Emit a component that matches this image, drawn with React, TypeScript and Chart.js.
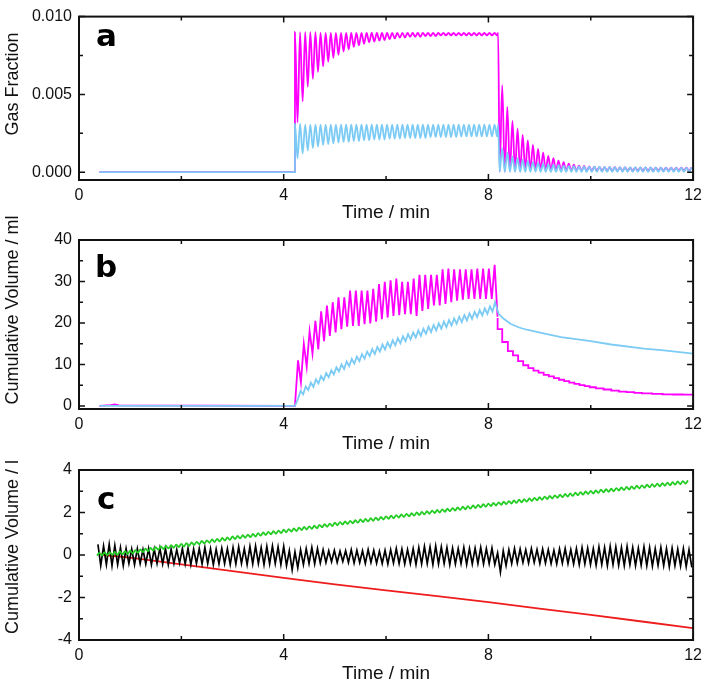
import { useEffect, useRef } from "react";
import { Chart, registerables } from "chart.js";

Chart.register(...registerables);
Chart.defaults.font.family = "'Liberation Sans', Arial, sans-serif";

// ================= shared axis =================
const timeTicks = [0, 4, 8, 12];
const timeTickLabels = ["0", "4", "8", "12"];
const timeMinorTicks = [2, 6, 10];

// ================= panel a : gas fraction (values in units of 1e-4) =================
const gasUnit = 1e-4;
const aYTicks = [0, 0.005, 0.01];
const aYTickLabels = ["0.000", "0.005", "0.010"];
const aYMinorTicks = [0.0025, 0.0075];
const aBaseTime = [0.4, 4.22];
const aBaseValue = [0, 0];
const aPulseStart = 4.22;
const aHalfPeriod = 0.05;
const aMagentaPeaks = [90, 90, 90, 90, 90, 89.5, 89.5, 89.5, 89.5, 89.5, 89.5, 89.5, 89.5, 89.5, 89.5, 89.5, 89.5, 89.5, 89.5, 89.5, 89.5, 89.5, 89.5, 89.5, 89.5, 89.5, 89.5, 89.5, 89.5, 89.5, 89.5, 89.5, 89.5, 89.5, 89.5, 89.5, 89.5, 89.5, 89.5, 89.5];
const aMagentaTroughs = [32, 45.5, 55, 60, 64.5, 68, 71, 73.5, 75.5, 77.5, 79, 80.5, 81.5, 82.5, 83.5, 84, 84.5, 85, 85.5, 86, 86.5, 86.5, 87, 87, 87, 87.5, 87.5, 87.5, 88, 88, 88, 88, 88, 88, 88, 88, 88, 88, 88, 88];
const aBluePeaks = [31, 31, 30.5, 30.5, 30.5, 30.5, 30.5, 30.5, 30.5, 30.5, 30.5, 30.5, 30.5, 30.5, 30.5, 30.5, 30.5, 30.5, 30.5, 30.5, 30.5, 30.5, 30.5, 30.5, 30.5, 30.5, 30.5, 30.5, 30.5, 30.5, 30.5, 30.5, 30.5, 30.5, 30.5, 30.5, 30.5, 30.5, 30.5, 30.5];
const aBlueTroughs = [9, 12, 14, 15.5, 16.5, 17.5, 18, 18.5, 19, 19.5, 19.5, 20, 20, 20.5, 20.5, 21, 21, 21, 21.5, 21.5, 21.5, 22, 22, 22, 22, 22, 22.5, 22.5, 22.5, 22.5, 22.5, 22.5, 23, 23, 23, 23, 23, 23, 23, 23];
const aDropTime = [8.19];
const aMagentaDrop = [89.5];
const aBlueDrop = [30.5];
const aDecayStart = 8.22;
const aMagentaDecayLows = [0.3, 0.3, 0.5, 0.5, 0.5, 0.8, 0.8, 0.8, 0.8, 0.8, 0.8, 0.8, 0.8, 0.8, 0.8, 0.8, 0.8, 0.8, 0.8, 0.8, 0.8, 0.8, 0.8, 0.8, 0.8, 0.8, 0.8, 0.8, 0.8, 0.8, 0.8, 0.8, 0.8, 0.8, 0.8, 0.8, 0.8, 0.8];
const aMagentaDecayHighs = [56, 42, 33, 28, 24, 20.5, 17.5, 15, 12.5, 10.5, 9, 7.5, 6.5, 5.5, 4.8, 4.3, 4, 3.7, 3.5, 3.4, 3.3, 3.2, 3.2, 3.1, 3.1, 3, 3, 3, 3, 3, 3, 3, 3, 3, 3, 3, 3, 3];
const aBlueDecayLows = [0.3, 0.3, 0.3, 0.3, 0.3, 0.3, 0.3, 0.3, 0.3, 0.3, 0.3, 0.3, 0.3, 0.3, 0.3, 0.3, 0.3, 0.3, 0.3, 0.3, 0.3, 0.3, 0.3, 0.3, 0.3, 0.3, 0.3, 0.3, 0.3, 0.3, 0.3, 0.3, 0.3, 0.3, 0.3, 0.3, 0.3, 0.3];
const aBlueDecayHighs = [15.5, 12.5, 10, 9, 8, 7.2, 6.5, 6, 5.5, 5, 4.8, 4.5, 4.3, 4.1, 4, 3.8, 3.7, 3.6, 3.5, 3.5, 3.4, 3.4, 3.3, 3.3, 3.3, 3.2, 3.2, 3.2, 3.2, 3.1, 3.1, 3.1, 3, 3, 3, 3, 3, 3];

// ================= panel b : cumulative volume / ml =================
const bYTicks = [0, 10, 20, 30, 40];
const bYTickLabels = ["0", "10", "20", "30", "40"];
const bYMinorTicks = [5, 15, 25, 35];
const bMagentaBaseTime = [0.4, 0.62, 0.7, 0.78, 4.22];
const bMagentaBase = [0, 0.2, 0.35, 0.1, 0];
const bMagentaStart = 4.28;
const bMagentaHalf = 0.0565;
const bMagentaPeaks = [11, 15, 18, 20.5, 22.8, 24.2, 25, 26.2, 26.2, 27.8, 27.8, 27.8, 27.8, 28.2, 29.4, 29.9, 30.3, 30.7, 29.9, 29.9, 30.7, 31.6, 31.6, 31.6, 31.6, 32.9, 33.1, 32.9, 32.9, 32.9, 32.9, 33.1, 33.1, 33.1, 34];
const bMagentaTroughs = [5.7, 9.5, 12.6, 13.6, 15.6, 16.9, 17.7, 18.5, 19.1, 19.3, 19.3, 19.7, 19.9, 20.3, 20.9, 21.3, 21.7, 21.9, 22.1, 22.1, 21.7, 22.9, 23.4, 24.2, 24.2, 24.6, 25, 25.4, 25.6, 25.8, 25.8, 25.8, 25.8, 25.8, 21.5];
const bMagentaTailTime = [8.18, 8.27, 8.38, 8.48, 8.58, 8.68, 8.78, 8.88, 8.98, 9.08, 9.18, 9.28, 9.38, 9.48, 9.58, 9.68, 9.78, 9.88, 9.98, 10.1, 10.25, 10.4, 10.55, 10.7, 10.85, 11.0, 11.2, 11.4, 11.6, 11.8, 12.0];
const bMagentaTail = [21.2, 18.5, 15.4, 13.2, 12.2, 10.8, 9.8, 9.1, 8.5, 8.0, 7.5, 7.1, 6.7, 6.3, 5.95, 5.6, 5.3, 5.0, 4.75, 4.5, 4.2, 3.95, 3.7, 3.45, 3.3, 3.15, 3.0, 2.9, 2.8, 2.75, 2.7];
const bBlueBaseTime = [0.4, 4.22];
const bBlueBase = [0, 0];
const bBlueStart = 4.28;
const bBlueHalf = 0.05;
const bBlueTroughs = [1.7, 2.8, 3.8, 4.6, 5.4, 6.2, 6.9, 7.6, 8.3, 8.9, 9.6, 10.2, 10.8, 11.4, 12, 12.5, 13.1, 13.6, 14.1, 14.6, 15.1, 15.6, 16, 16.5, 16.9, 17.4, 17.8, 18.2, 18.6, 19, 19.4, 19.8, 20.2, 20.6, 21, 21.4, 21.8, 22.2, 22.7];
const bBluePeaks = [3.6, 4.7, 5.6, 6.4, 7.2, 7.9, 8.6, 9.3, 10, 10.7, 11.3, 11.9, 12.5, 13.1, 13.7, 14.2, 14.8, 15.3, 15.8, 16.3, 16.8, 17.3, 17.7, 18.2, 18.6, 19.1, 19.5, 19.9, 20.3, 20.7, 21.1, 21.5, 21.9, 22.3, 22.7, 23.1, 23.5, 24, 25];
const bBlueTailTime = [8.2, 8.3, 8.43, 8.6, 8.77, 9.1, 9.42, 10.0, 10.4, 11.04, 11.43, 12.0];
const bBlueTail = [22.2, 21.0, 19.8, 18.9, 18.3, 17.4, 16.6, 15.6, 14.8, 13.8, 13.4, 12.6];

// ================= panel c : cumulative volume / l =================
const cYTicks = [-4, -2, 0, 2, 4];
const cYTickLabels = ["-4", "-2", "0", "2", "4"];
const cYMinorTicks = [-3, -1, 1, 3];
const cGreenStart = 0.35;
const cGreenHalf = 0.05;
const cGreenTroughs = [
  -0.03, -0.02, -0.01, 0.0, 0.01, 0.03, 0.04, 0.07, 0.1, 0.14,
  0.18, 0.21, 0.25, 0.28, 0.31, 0.34, 0.37, 0.4, 0.43, 0.47,
  0.5, 0.54, 0.57, 0.61, 0.64, 0.68, 0.71, 0.75, 0.78, 0.81,
  0.84, 0.87, 0.91, 0.94, 0.97, 1.0, 1.03, 1.07, 1.1, 1.13,
  1.17, 1.2, 1.23, 1.26, 1.3, 1.33, 1.36, 1.4, 1.43, 1.46,
  1.49, 1.52, 1.55, 1.58, 1.61, 1.64, 1.67, 1.7, 1.73, 1.76,
  1.79, 1.82, 1.85, 1.88, 1.91, 1.94, 1.97, 2.0, 2.03, 2.06,
  2.09, 2.12, 2.15, 2.18, 2.21, 2.24, 2.27, 2.3, 2.33, 2.36,
  2.39, 2.42, 2.45, 2.48, 2.51, 2.54, 2.57, 2.6, 2.63, 2.66,
  2.69, 2.72, 2.75, 2.78, 2.81, 2.84, 2.87, 2.89, 2.92, 2.95,
  2.97, 3.0, 3.03, 3.05, 3.08, 3.11, 3.13, 3.16, 3.18, 3.21,
  3.23, 3.26, 3.28, 3.31, 3.33, 3.36,
];
const cGreenPeaks = [
  0.1, 0.12, 0.13, 0.15, 0.17, 0.18, 0.2, 0.23, 0.26, 0.3,
  0.33, 0.37, 0.4, 0.43, 0.46, 0.49, 0.52, 0.56, 0.59, 0.62,
  0.66, 0.69, 0.73, 0.76, 0.8, 0.83, 0.87, 0.9, 0.93, 0.96,
  0.99, 1.03, 1.06, 1.09, 1.12, 1.15, 1.19, 1.22, 1.25, 1.29,
  1.32, 1.35, 1.38, 1.42, 1.45, 1.48, 1.52, 1.55, 1.58, 1.61,
  1.64, 1.67, 1.7, 1.73, 1.76, 1.79, 1.82, 1.85, 1.88, 1.91,
  1.94, 1.97, 2.0, 2.03, 2.06, 2.09, 2.12, 2.15, 2.18, 2.21,
  2.24, 2.27, 2.3, 2.33, 2.36, 2.39, 2.42, 2.45, 2.48, 2.51,
  2.54, 2.57, 2.6, 2.63, 2.66, 2.69, 2.72, 2.75, 2.78, 2.81,
  2.84, 2.87, 2.9, 2.93, 2.96, 2.99, 3.02, 3.04, 3.07, 3.1,
  3.12, 3.15, 3.18, 3.2, 3.23, 3.26, 3.28, 3.31, 3.33, 3.36,
  3.38, 3.41, 3.43, 3.46, 3.48, 3.51,
];
const cBlackStart = 0.37;
const cBlackHalf = 0.055;
const cBlackPeaks = [
  0.5, 0.42, 0.5, 0.45, 0.35, 0.3, 0.28, 0.3, 0.25, 0.3,
  0.28, 0.32, 0.3, 0.28, 0.25, 0.3, 0.32, 0.28, 0.3, 0.35,
  0.3, 0.28, 0.32, 0.3, 0.35, 0.38, 0.3, 0.4, 0.42, 0.35,
  0.4, 0.42, 0.38, 0.4, 0.2, 0.15, 0.25, 0.3, 0.35, 0.3,
  0.25, 0.2, 0.22, 0.18, 0.2, 0.25, 0.22, 0.2, 0.25, 0.22,
  0.18, 0.22, 0.25, 0.3, 0.28, 0.25, 0.3, 0.35, 0.4, 0.38,
  0.42, 0.38, 0.35, 0.32, 0.3, 0.35, 0.3, 0.32, 0.35, 0.3,
  0.32, 0.1, 0.2, 0.25, 0.3, 0.28, 0.25, 0.3, 0.25, 0.28,
  0.25, 0.22, 0.28, 0.3, 0.25, 0.3, 0.35, 0.32, 0.3, 0.38,
  0.35, 0.4, 0.38, 0.35, 0.4, 0.35, 0.32, 0.38, 0.35, 0.3,
  0.35, 0.3, 0.32, 0.28, 0.3, 0.25,
];
const cBlackTroughs = [
  -0.5, -0.45, -0.5, -0.45, -0.5, -0.4, -0.45, -0.4, -0.42, -0.45,
  -0.4, -0.42, -0.45, -0.4, -0.38, -0.42, -0.45, -0.4, -0.42, -0.4,
  -0.45, -0.42, -0.4, -0.45, -0.42, -0.4, -0.45, -0.42, -0.4, -0.45,
  -0.42, -0.4, -0.45, -0.5, -0.7, -0.6, -0.45, -0.4, -0.42, -0.38,
  -0.35, -0.32, -0.35, -0.3, -0.35, -0.38, -0.35, -0.4, -0.35, -0.38,
  -0.4, -0.42, -0.38, -0.4, -0.42, -0.4, -0.45, -0.42, -0.4, -0.45,
  -0.42, -0.4, -0.45, -0.42, -0.4, -0.45, -0.42, -0.4, -0.42, -0.4,
  -0.45, -0.8, -0.5, -0.4, -0.38, -0.35, -0.38, -0.35, -0.4, -0.38,
  -0.4, -0.42, -0.38, -0.4, -0.42, -0.45, -0.42, -0.45, -0.48, -0.45,
  -0.5, -0.45, -0.48, -0.5, -0.45, -0.5, -0.48, -0.5, -0.52, -0.48,
  -0.5, -0.55, -0.5, -0.52, -0.55, -0.58,
];
const cRedTime = [0.47, 1, 2, 3, 4, 5, 6, 7, 8, 9, 10, 11, 12];
const cRed = [0, -0.12, -0.44, -0.76, -1.08, -1.38, -1.66, -1.94, -2.22, -2.52, -2.82, -3.13, -3.44];

// ================= helpers =================
type Pt = { x: number; y: number };
const joinPts = (times: number[], values: number[], k = 1): Pt[] =>
  times.map((t, i) => ({ x: t, y: values[i] * k }));
const alternate = (start: number, half: number, first: number[], second: number[], k = 1): Pt[] => {
  const pts: Pt[] = [];
  for (let i = 0; i < first.length; i++) {
    pts.push({ x: start + 2 * i * half, y: first[i] * k });
    if (i < second.length) pts.push({ x: start + (2 * i + 1) * half, y: second[i] * k });
  }
  return pts;
};

const MAGENTA = "#ff00ff";
const BLUE = "#7ccbf4";
const GREEN = "#22cc22";
const RED = "#ee1c1c";
const BLACK = "#000000";
const INK = "#111111";

type DS = { data: Pt[]; color: string; width: number; smooth?: boolean; stepped?: boolean };
type PanelSpec = {
  top: number;
  height: number;
  padTop: number;
  xHeight: number;
  xTitlePad: number;
  yMin: number;
  yMax: number;
  yTicks: number[];
  yTickLabels: string[];
  yMinor: number[];
  yTitle: string;
  yTitleY: number;
  letter: string;
  letterX: number;
  letterY: number;
  datasets: DS[];
};

const panels: PanelSpec[] = [
  {
    top: 0, height: 228, padTop: 10, xHeight: 48, xTitlePad: 3.6,
    yMin: -0.0005, yMax: 0.01, yTicks: aYTicks, yTickLabels: aYTickLabels, yMinor: aYMinorTicks,
    yTitle: "Gas Fraction", yTitleY: 84, letter: "a", letterX: 96, letterY: 46,
    datasets: [
      {
        color: BLUE, width: 1.8, smooth: true,
        data: [
          ...joinPts(aBaseTime, aBaseValue, gasUnit),
          ...alternate(aPulseStart, aHalfPeriod, aBluePeaks, aBlueTroughs, gasUnit),
          ...joinPts(aDropTime, aBlueDrop, gasUnit),
          ...alternate(aDecayStart, aHalfPeriod, aBlueDecayLows, aBlueDecayHighs, gasUnit),
        ],
      },
      {
        color: MAGENTA, width: 1.8, smooth: true,
        data: [
          ...joinPts(aBaseTime, aBaseValue, gasUnit),
          ...alternate(aPulseStart, aHalfPeriod, aMagentaPeaks, aMagentaTroughs, gasUnit),
          ...joinPts(aDropTime, aMagentaDrop, gasUnit),
          ...alternate(aDecayStart, aHalfPeriod, aMagentaDecayLows, aMagentaDecayHighs, gasUnit),
        ],
      },
    ],
  },
  {
    top: 180, height: 280, padTop: 60, xHeight: 51, xTitlePad: 4.6,
    yMin: -0.75, yMax: 40, yTicks: bYTicks, yTickLabels: bYTickLabels, yMinor: bYMinorTicks,
    yTitle: "Cumulative Volume / ml", yTitleY: 130, letter: "b", letterX: 95, letterY: 97,
    datasets: [
      {
        color: BLUE, width: 1.8,
        data: [
          ...joinPts(bBlueBaseTime, bBlueBase),
          ...alternate(bBlueStart, bBlueHalf, bBlueTroughs, bBluePeaks),
          ...joinPts(bBlueTailTime, bBlueTail),
        ],
      },
      {
        color: MAGENTA, width: 1.8,
        data: [
          ...joinPts(bMagentaBaseTime, bMagentaBase),
          ...alternate(bMagentaStart, bMagentaHalf, bMagentaPeaks, bMagentaTroughs),
        ],
      },
      { color: MAGENTA, width: 1.8, stepped: true, data: joinPts(bMagentaTailTime, bMagentaTail) },
    ],
  },
  {
    top: 410, height: 278, padTop: 60, xHeight: 48, xTitlePad: 2.6,
    yMin: -4, yMax: 4, yTicks: cYTicks, yTickLabels: cYTickLabels, yMinor: cYMinorTicks,
    yTitle: "Cumulative Volume / l", yTitleY: 137, letter: "c", letterX: 97, letterY: 99,
    datasets: [
      { color: GREEN, width: 1.8, smooth: true, data: alternate(cGreenStart, cGreenHalf, cGreenTroughs, cGreenPeaks) },
      { color: BLACK, width: 1.7, data: alternate(cBlackStart, cBlackHalf, cBlackPeaks, cBlackTroughs) },
      { color: RED, width: 1.8, data: joinPts(cRedTime, cRed) },
    ],
  },
];

// ================= frame / ticks / labels plugin =================
const framePlugin = {
  id: "frame",
  afterDraw(chart: any, _args: any, opts: any) {
    const { ctx, chartArea, scales } = chart;
    const { left, right, top, bottom } = chartArea;
    const xs = scales.x;
    const ys = scales.y;
    ctx.save();
    ctx.strokeStyle = INK;
    ctx.lineWidth = 1.5;
    ctx.beginPath();
    const seg = (x1: number, y1: number, x2: number, y2: number) => {
      ctx.moveTo(x1, y1);
      ctx.lineTo(x2, y2);
    };
    const xTickMarks = (vals: number[], len: number) =>
      vals.forEach((v) => {
        const p = xs.getPixelForValue(v);
        seg(p, bottom, p, bottom - len);
        seg(p, top, p, top + len);
      });
    const yTickMarks = (vals: number[], len: number) =>
      vals.forEach((v) => {
        const p = ys.getPixelForValue(v);
        seg(left, p, left + len, p);
        seg(right, p, right - len, p);
      });
    xTickMarks(timeTicks, 6);
    xTickMarks(timeMinorTicks, 4);
    yTickMarks(opts.yTicks, 6);
    yTickMarks(opts.yMinor, 4);
    ctx.stroke();
    ctx.lineWidth = 2;
    ctx.strokeRect(left, top, right - left, bottom - top);

    ctx.fillStyle = "#000";
    ctx.font = "bold 31px 'DejaVu Sans'";
    ctx.textAlign = "left";
    ctx.textBaseline = "alphabetic";
    ctx.fillText(opts.letter, opts.letterX, opts.letterY);

    ctx.fillStyle = INK;
    ctx.font = "18px 'Liberation Sans'";
    ctx.translate(13, opts.yTitleY);
    ctx.rotate(-Math.PI / 2);
    ctx.textAlign = "center";
    ctx.textBaseline = "middle";
    ctx.fillText(opts.yTitle, 0, 0);
    ctx.restore();
  },
};

const tickFont = { family: "'Liberation Sans'", size: 16 };
const titleFont = { family: "'Liberation Sans'", size: 19 };

function buildConfig(p: PanelSpec): any {
  return {
    type: "line",
    data: {
      datasets: p.datasets.map((d) => ({
        data: d.data,
        borderColor: d.color,
        backgroundColor: d.color,
        borderWidth: d.width,
        pointRadius: 0,
        tension: d.smooth ? 0.4 : 0,
        cubicInterpolationMode: d.smooth ? "monotone" : "default",
        stepped: d.stepped ? "after" : false,
        fill: false,
      })),
    },
    options: {
      animation: false,
      responsive: false,
      events: [],
      layout: { padding: { top: p.padTop, right: 12, left: 0, bottom: 0 } },
      plugins: {
        legend: { display: false },
        tooltip: { enabled: false },
        frame: {
          yTicks: p.yTicks,
          yMinor: p.yMinor,
          yTitle: p.yTitle,
          yTitleY: p.yTitleY,
          letter: p.letter,
          letterX: p.letterX,
          letterY: p.letterY,
        },
      },
      scales: {
        x: {
          type: "linear",
          min: 0,
          max: 12,
          afterBuildTicks: (s: any) => {
            s.ticks = timeTicks.map((v) => ({ value: v }));
          },
          afterFit: (s: any) => {
            s.height = p.xHeight;
          },
          ticks: {
            font: tickFont,
            color: INK,
            padding: 6,
            maxRotation: 0,
            autoSkip: false,
            callback: (_v: any, i: number) => timeTickLabels[i] ?? "",
          },
          grid: { display: false, drawTicks: false },
          border: { display: false },
          title: {
            display: true,
            text: "Time / min",
            font: titleFont,
            color: INK,
            padding: { top: 0, bottom: p.xTitlePad },
          },
        },
        y: {
          type: "linear",
          min: p.yMin,
          max: p.yMax,
          afterBuildTicks: (s: any) => {
            s.ticks = p.yTicks.map((v) => ({ value: v }));
          },
          afterFit: (s: any) => {
            s.width = 79;
          },
          ticks: {
            font: tickFont,
            color: INK,
            padding: 7,
            callback: (_v: any, i: number) => p.yTickLabels[i] ?? "",
          },
          grid: { display: false, drawTicks: false },
          border: { display: false },
        },
      },
    },
    plugins: [framePlugin],
  };
}

function Panel({ spec }: { spec: PanelSpec }) {
  const ref = useRef<HTMLCanvasElement>(null);
  useEffect(() => {
    if (!ref.current) return;
    const chart = new Chart(ref.current, buildConfig(spec));
    return () => chart.destroy();
  }, [spec]);
  return (
    <canvas
      ref={ref}
      width={708}
      height={spec.height}
      style={{ position: "absolute", left: 0, top: spec.top, width: 708, height: spec.height }}
    />
  );
}

export default function App() {
  return (
    <div style={{ position: "absolute", left: 0, top: 0, width: 708, height: 688, background: "#fff" }}>
      {panels.map((p) => (
        <Panel key={p.letter} spec={p} />
      ))}
    </div>
  );
}
